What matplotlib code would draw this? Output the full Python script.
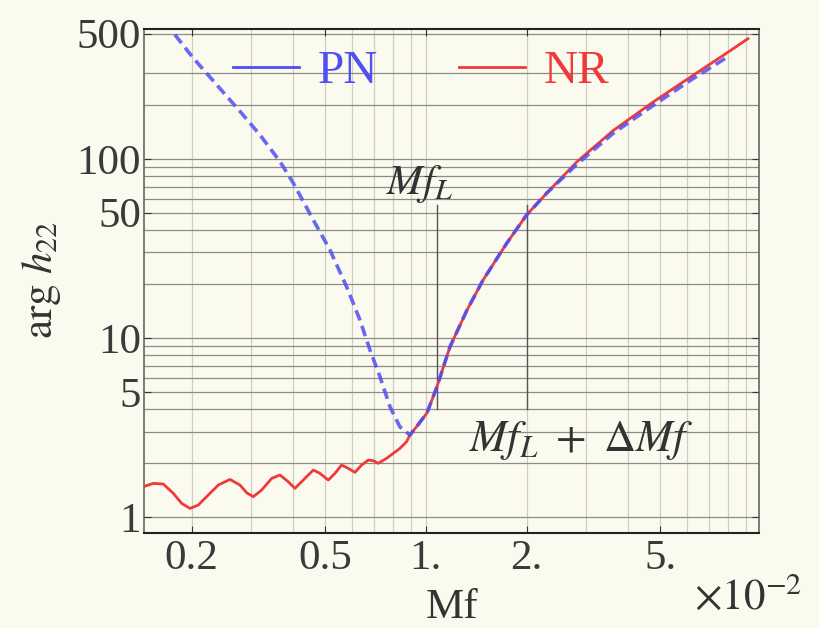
import matplotlib
matplotlib.use("Agg")
import matplotlib.pyplot as plt
from matplotlib.lines import Line2D

# Mf values are in units of 10^-2
nr_mf = [0.1432, 0.1535, 0.1644, 0.1762, 0.1866, 0.1975, 0.2091, 0.2214, 0.2399, 0.260,
         0.2786, 0.2917, 0.3051, 0.3232, 0.3463, 0.3666, 0.388, 0.4064, 0.4303, 0.4609,
         0.4828, 0.5109, 0.535, 0.560, 0.5864, 0.614, 0.6427, 0.673, 0.6964, 0.7204,
         0.763, 0.799, 0.8364, 0.8756, 0.896, 0.95, 1.007, 1.078, 1.179, 1.326,
         1.48, 1.745, 2.0, 2.30, 2.82, 3.61, 4.76, 6.27, 7.92, 9.15]
nr_arg = [1.477, 1.542, 1.529, 1.356, 1.192, 1.118, 1.167, 1.299, 1.509, 1.623,
          1.509, 1.367, 1.299, 1.415, 1.644, 1.717, 1.575, 1.446, 1.609, 1.830,
          1.754, 1.609, 1.754, 1.952, 1.871, 1.777, 1.952, 2.081, 2.064, 1.995,
          2.128, 2.268, 2.418, 2.636, 2.87, 3.3, 3.81, 5.32, 8.9, 14.3,
          21.0, 33.9, 48.7, 64.6, 96, 143, 207, 292, 390, 468]

pn_mf = [0.178, 0.202, 0.2372, 0.2785, 0.3194, 0.3666, 0.4018, 0.4609, 0.517, 0.5797,
         0.6353, 0.6805, 0.729, 0.781, 0.836, 0.896, 0.95, 1.007, 1.078, 1.179,
         1.326, 1.48, 1.745, 2.0, 2.30, 2.82, 3.61, 4.76, 6.27, 7.97]
pn_arg = [493, 365, 259, 184, 136, 96.6, 73.2, 45.6, 31.0, 19.3,
          12.6, 8.57, 6.08, 4.13, 3.19, 2.87, 3.3, 3.81, 5.32, 8.9,
          14.3, 21.0, 33.9, 48.7, 64.6, 93, 138, 198, 280, 371]

xticks = [0.2, 0.5, 1, 2, 5]
xticklabels = ["0.2", "0.5", "1.", "2.", "5."]
yticks = [1, 5, 10, 50, 100, 500]
yticklabels = ["1", "5", "10", "50", "100", "500"]

xgrid = [0.2, 0.3, 0.4, 0.5, 0.6, 0.7, 0.8, 0.9, 1, 2, 3, 4, 5, 6, 7, 8, 9]
ygrid = [1, 2, 3, 4, 5, 6, 7, 8, 9, 10, 20, 30, 40, 50, 60, 70, 80, 90, 100, 200, 300, 500]

mark_mf = [1.08, 2.0]
mark_lo, mark_hi = 4.0, 55

bg = "#fafaee"
blue = "#4f4ff2"
red = "#f03a3a"

plt.rcParams["font.family"] = ["Liberation Serif", "DejaVu Serif"]
plt.rcParams["mathtext.fontset"] = "stix"

fig = plt.figure(figsize=(8.2, 6.28), dpi=100, facecolor=bg)
ax = fig.add_axes([144 / 820, 1 - 533 / 628, 615 / 820, 504 / 628])
ax.set_facecolor(bg)
ax.set_xscale("log")
ax.set_yscale("log")
ax.set_xlim(0.144, 9.87)
ax.set_ylim(0.815, 530)

for g in xgrid:
    ax.axvline(g, color="#d0cec0", lw=0.9, zorder=0)
for g in ygrid:
    ax.axhline(g, color="#8c8c86", lw=0.9, zorder=0)

ax.plot(nr_mf, nr_arg, color=red, lw=2.0, zorder=3)
ax.plot(pn_mf, pn_arg, color=blue, lw=2.6, dashes=(3.0, 1.6), alpha=0.85, zorder=4)

for m in mark_mf:
    ax.plot([m, m], [mark_lo, mark_hi], color="#555555", lw=1.0, zorder=2)

ax.text(0.96, 72, r"$Mf_L$", fontsize=31, ha="center", va="center", color="#333333")
ax.text(2.9, 2.69, r"$Mf_L\ +\ \Delta Mf$", fontsize=32, ha="center", va="center", color="#333333")

ax.set_xticks(xticks)
ax.set_xticklabels(xticklabels)
ax.set_yticks(yticks)
ax.set_yticklabels(yticklabels)
ax.minorticks_off()
ax.tick_params(direction="in", length=5, width=0.8, top=True, right=True,
               labelsize=31, colors="#333333", pad=5)
ax.tick_params(axis="x", labelcolor="#3a3a3a")
ax.tick_params(axis="y", labelcolor="#3a3a3a", pad=2)

for s in ["top", "bottom"]:
    ax.spines[s].set_color("#222222")
    ax.spines[s].set_linewidth(1.5)
for s in ["left", "right"]:
    ax.spines[s].set_color("#666666")
    ax.spines[s].set_linewidth(1.2)

handles = [Line2D([], [], color=blue, lw=2.0), Line2D([], [], color=red, lw=2.0)]
leg = ax.legend(handles, ["PN", "NR"], ncol=2, loc="center left",
                bbox_to_anchor=(0.145, 0.915), frameon=False, fontsize=34,
                handlelength=1.4, handletextpad=0.4, columnspacing=1.7,
                borderpad=0, borderaxespad=0, labelcolor=[blue, red])

fig.text(452 / 820, 1 - 608 / 628, "Mf", fontsize=31, ha="center", va="center", color="#333333")
fig.text(748 / 820, 1 - 598 / 628, r"$\times 10^{-2}$", fontsize=31, ha="center", va="center",
         color="#333333")
fig.text(42 / 820, 1 - 280 / 628, r"$\mathrm{arg}\ h_{22}$", fontsize=31, rotation=90,
         ha="center", va="center", color="#333333")

fig.savefig("out.png", dpi=100, facecolor=bg)
